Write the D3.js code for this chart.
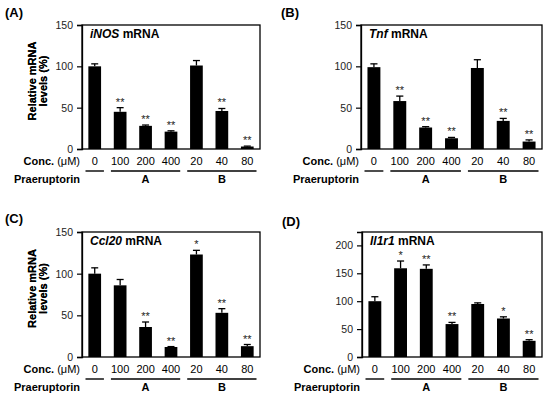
<!DOCTYPE html>
<html>
<head>
<meta charset="utf-8">
<script src="https://cdn.jsdelivr.net/npm/d3@7"></script>
<style>
  body { margin: 0; background: #fff; }
  svg { font-family: "Liberation Sans", Arial, sans-serif; }
</style>
</head>
<body>
<svg id="chart" width="550" height="397"></svg>
<script>
// categories
const concLabels = ['0', '100', '200', '400', '20', '40', '80'];
const groupLabels = ['', 'A', 'B'];
const groupSpans = [[0, 0], [1, 3], [4, 6]];

// iNOS
const inosMean = [100, 45, 28, 21, 101, 46, 3];
const inosErr = [3, 5, 1, 1, 6, 3, 0.5];
const inosSig = ['', '**', '**', '**', '', '**', '**'];

// Tnf
const tnfMean = [99, 58, 26, 13, 98, 34, 9];
const tnfErr = [4, 6, 1, 1, 10, 3, 2];
const tnfSig = ['', '**', '**', '**', '', '**', '**'];

// Ccl20
const ccl20Mean = [100, 86, 36, 12, 123, 53, 13];
const ccl20Err = [7, 7, 6, 0.5, 5, 5, 2];
const ccl20Sig = ['', '', '**', '**', '*', '**', '**'];

// Il1r1
const il1r1Mean = [100, 159, 158, 59, 95, 69, 29];
const il1r1Err = [8, 13, 7, 3, 2, 3, 2];
const il1r1Sig = ['', '*', '**', '**', '', '*', '**'];

const ticks150 = [0, 50, 100, 150];
const ticks200 = [0, 50, 100, 150, 200];

const panels = [
  { tag: '(A)', gene: 'iNOS', mean: inosMean, err: inosErr, sig: inosSig,
    yMax: 150, ticks: ticks150, x0: 82, x1: 260, y0: 25, y1: 149, lx: 5, ly: 17 },
  { tag: '(B)', gene: 'Tnf', mean: tnfMean, err: tnfErr, sig: tnfSig,
    yMax: 150, ticks: ticks150, x0: 361, x1: 542, y0: 25, y1: 149, lx: 281, ly: 17 },
  { tag: '(C)', gene: 'Ccl20', mean: ccl20Mean, err: ccl20Err, sig: ccl20Sig,
    yMax: 150, ticks: ticks150, x0: 82, x1: 260, y0: 232, y1: 357, lx: 5, ly: 223 },
  { tag: '(D)', gene: 'Il1r1', mean: il1r1Mean, err: il1r1Err, sig: il1r1Sig,
    yMax: 224, ticks: ticks200, x0: 362, x1: 542, y0: 232, y1: 357, lx: 282, ly: 226 }
];

const svg = d3.select('#chart');

panels.forEach(p => {
  const g = svg.append('g');

  const x = d3.scaleBand()
    .domain(concLabels)
    .range([p.x0, p.x1])
    .paddingInner(0.5)
    .paddingOuter(0.25);
  const y = d3.scaleLinear().domain([0, p.yMax]).range([p.y1, p.y0]);

  // panel tag
  g.append('text')
    .attr('x', p.lx)
    .attr('y', p.ly)
    .style('font-size', '13px')
    .style('font-weight', 'bold')
    .text(p.tag);

  // frame
  g.append('rect')
    .attr('x', p.x0)
    .attr('y', p.y0)
    .attr('width', p.x1 - p.x0)
    .attr('height', p.y1 - p.y0)
    .attr('fill', 'none')
    .attr('stroke', '#000')
    .attr('stroke-width', 1.3);

  // y axis
  const yAxis = g.append('g')
    .attr('transform', `translate(${p.x0},0)`)
    .call(d3.axisLeft(y).tickValues(p.ticks).tickSize(5).tickPadding(4));
  yAxis.select('.domain').attr('stroke-width', 1.3);
  yAxis.selectAll('.tick line').attr('stroke-width', 1.2);
  yAxis.selectAll('.tick text')
    .style('font-size', '10.5px')
    .style('font-family', '"Liberation Sans", Arial, sans-serif')
    .attr('fill', '#222');

  // y title
  const cy = (p.y0 + p.y1) / 2 - 6;
  const title = g.append('text')
    .attr('transform', `translate(36,${cy}) rotate(-90)`)
    .attr('text-anchor', 'middle')
    .style('font-size', '11px')
    .style('font-weight', 'bold');
  title.append('tspan').attr('x', 0).attr('y', 0).text('Relative mRNA');
  title.append('tspan').attr('x', 0).attr('y', 11).text('levels (%)');

  // gene title
  const gt = g.append('text')
    .attr('x', p.x0 + 8)
    .attr('y', p.y0 + 13)
    .style('font-size', '12px')
    .style('font-weight', 'bold');
  gt.append('tspan').style('font-style', 'italic').text(p.gene);
  gt.append('tspan').text(' mRNA');

  // bars
  g.selectAll('rect.bar')
    .data(concLabels)
    .join('rect')
    .attr('class', 'bar')
    .attr('x', d => x(d))
    .attr('width', x.bandwidth())
    .attr('y', (d, i) => y(p.mean[i]))
    .attr('height', (d, i) => y(0) - y(p.mean[i]))
    .attr('fill', '#000');

  // error bars (upper only)
  const capW = x.bandwidth() * 0.55;
  concLabels.forEach((d, i) => {
    const cx = x(d) + x.bandwidth() / 2;
    const top = y(p.mean[i] + p.err[i]);
    g.append('line')
      .attr('x1', cx).attr('x2', cx)
      .attr('y1', y(p.mean[i])).attr('y2', top)
      .attr('stroke', '#000').attr('stroke-width', 1.3);
    g.append('line')
      .attr('x1', cx - capW / 2).attr('x2', cx + capW / 2)
      .attr('y1', top).attr('y2', top)
      .attr('stroke', '#000').attr('stroke-width', 1.3);
    if (p.sig[i]) {
      g.append('text')
        .attr('x', cx)
        .attr('y', top - 2)
        .attr('text-anchor', 'middle')
        .style('font-size', '11px')
        .attr('fill', '#222')
        .text(p.sig[i]);
    }
  });

  // concentration row
  const rowY = p.y1 + 16;
  const conc = g.append('text')
    .attr('x', p.x0 - 2)
    .attr('y', rowY)
    .attr('text-anchor', 'end')
    .style('font-size', '11px');
  conc.append('tspan').style('font-weight', 'bold').text('Conc.');
  conc.append('tspan').text(' (μM)');

  g.selectAll('text.conc')
    .data(concLabels)
    .join('text')
    .attr('class', 'conc')
    .attr('x', d => x(d) + x.bandwidth() / 2)
    .attr('y', rowY)
    .attr('text-anchor', 'middle')
    .style('font-size', '11px')
    .text(d => d);

  // group underlines and labels
  const lineY = p.y1 + 22;
  groupSpans.forEach((s, k) => {
    const a = x(concLabels[s[0]]) - x.step() * 0.25 + 3.5;
    const b = x(concLabels[s[1]]) + x.bandwidth() + x.step() * 0.25 - 3.5;
    g.append('line')
      .attr('x1', a).attr('x2', b)
      .attr('y1', lineY).attr('y2', lineY)
      .attr('stroke', '#000').attr('stroke-width', 1.4);
    if (groupLabels[k]) {
      g.append('text')
        .attr('x', (a + b) / 2)
        .attr('y', p.y1 + 34)
        .attr('text-anchor', 'middle')
        .style('font-size', '11px')
        .style('font-weight', 'bold')
        .text(groupLabels[k]);
    }
  });

  g.append('text')
    .attr('x', p.x0 - 2)
    .attr('y', p.y1 + 34)
    .attr('text-anchor', 'end')
    .style('font-size', '11px')
    .style('font-weight', 'bold')
    .text('Praeruptorin');
});
</script>
</body>
</html>
